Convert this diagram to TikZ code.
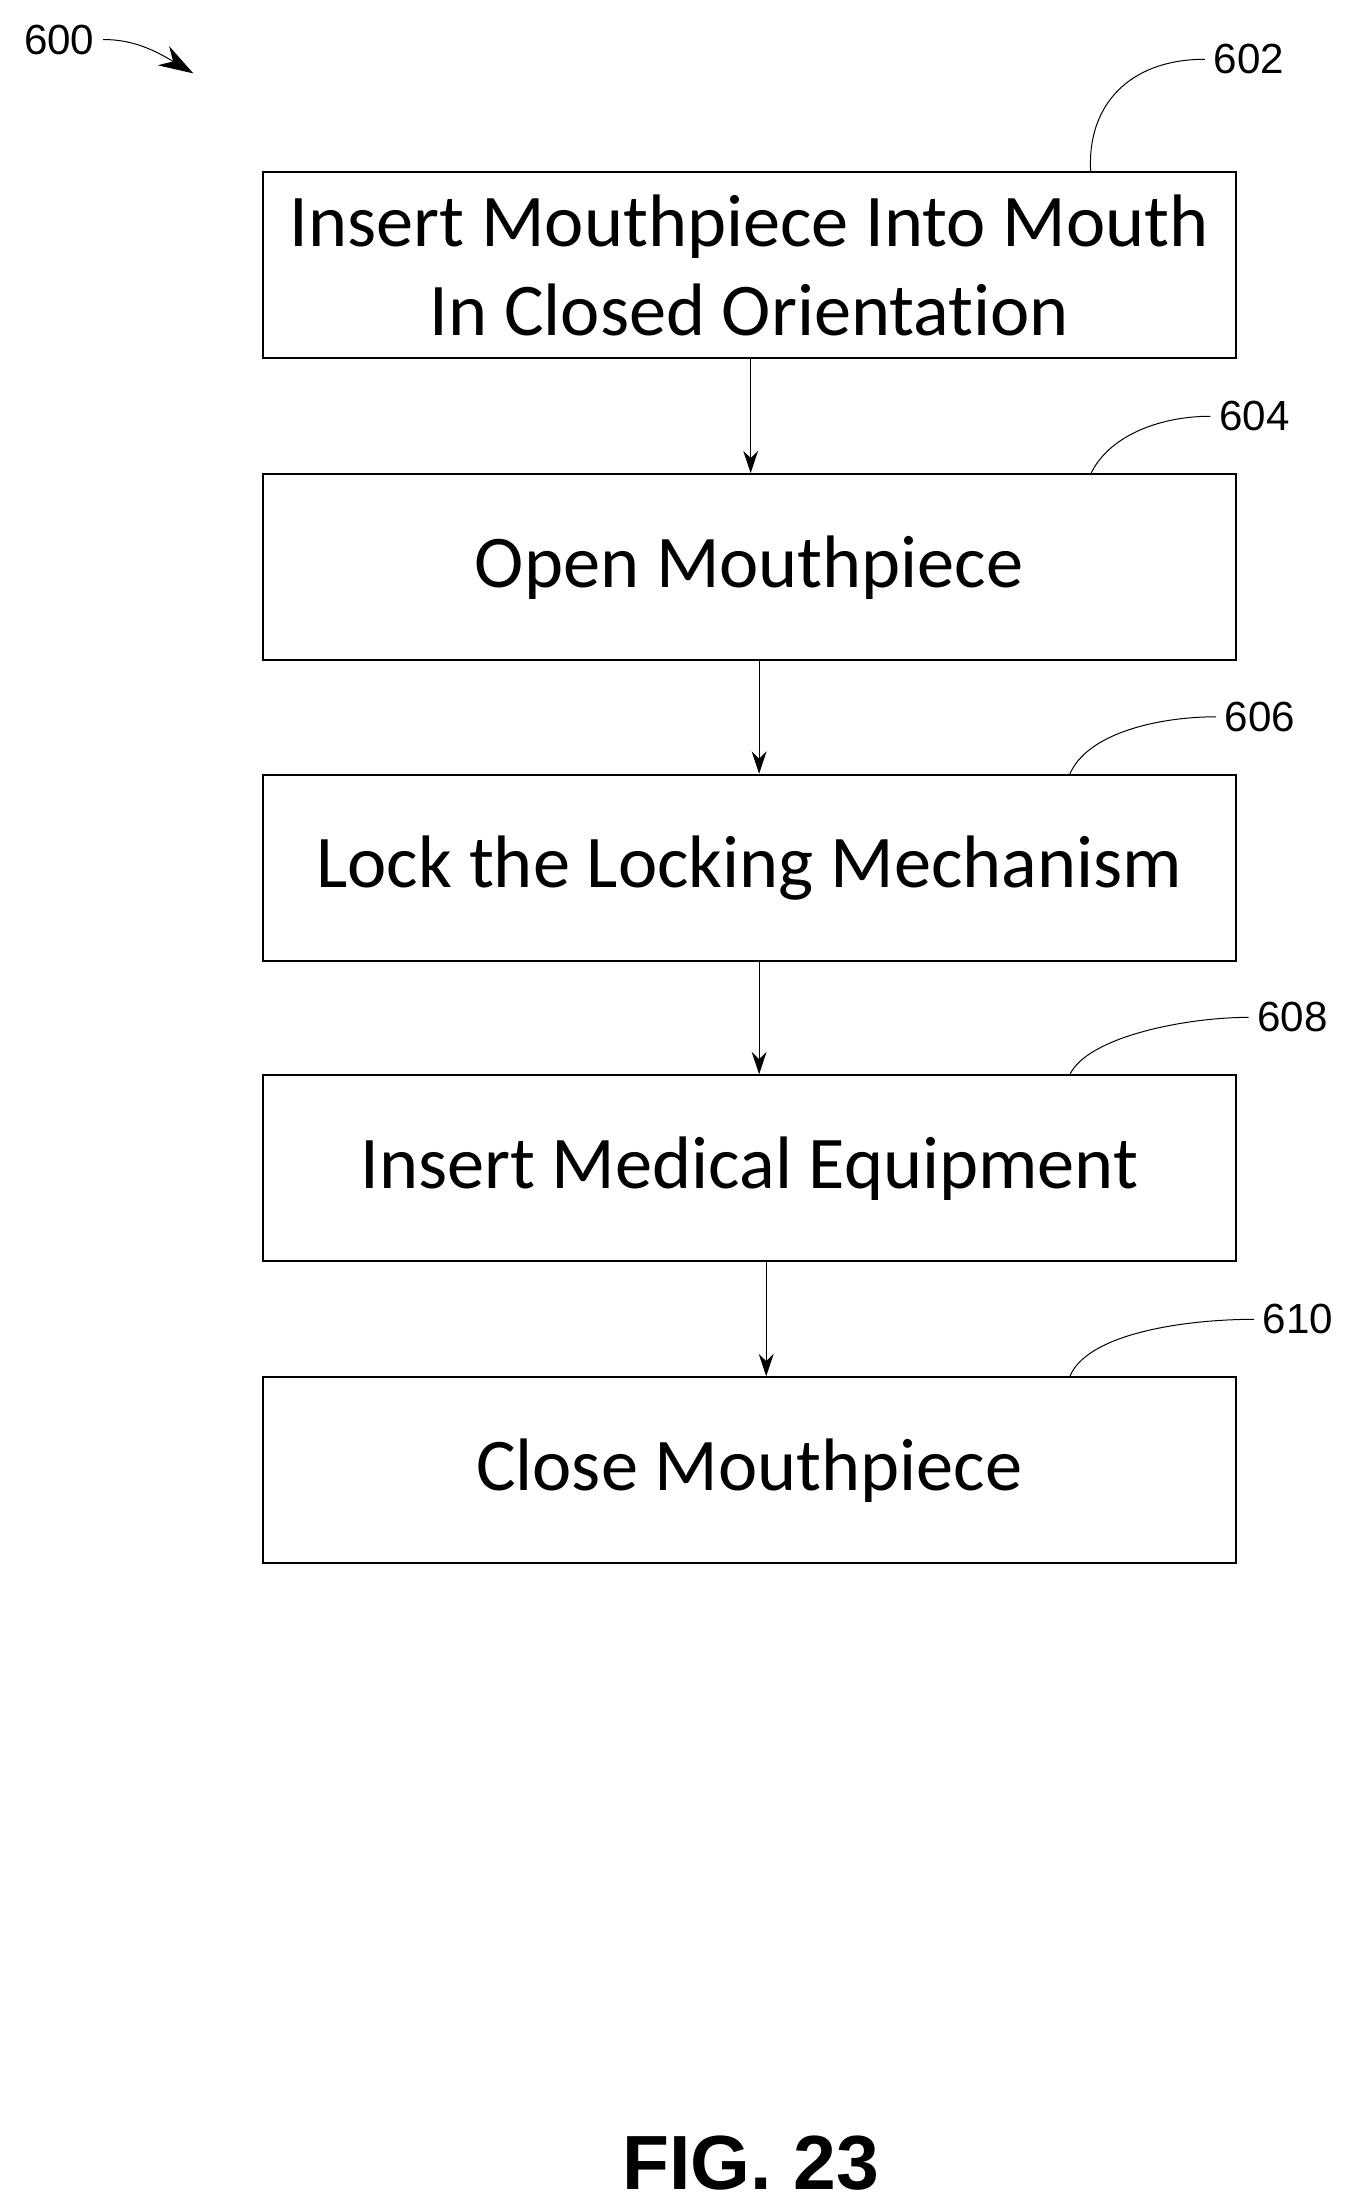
\documentclass[tikz,border=0pt]{standalone}
\usepackage{fontspec}
\setmainfont[Ligatures=NoCommon]{Carlito}
\newfontfamily\numfont{Liberation Sans}
\usetikzlibrary{arrows.meta}
\tikzset{
  flowbox/.style={draw, thick, minimum width=13.8cm, minimum height=2.64cm, align=center, font=\fontsize{30}{36}\selectfont},
  flow/.style={-{Stealth[length=9pt,width=6pt]}, thin},
  refnum/.style={font=\numfont\fontsize{17}{20}\selectfont},
  leader/.style={thin}
}
\begin{document}
\begin{tikzpicture}[x=0.02cm,y=-0.02cm]
    \useasboundingbox (0,0) rectangle (960,1562);
    \node[flowbox] (s602) at (531,188) {Insert Mouthpiece Into Mouth\\In Closed Orientation};
    \node[flowbox] (s604) at (531,402) {Open Mouthpiece};
    \node[flowbox] (s606) at (531,615) {Lock the Locking Mechanism};
    \node[flowbox] (s608) at (531,828) {Insert Medical Equipment};
    \node[flowbox] (s610) at (531,1042) {Close Mouthpiece};

    \draw[flow] (s602.south -| 532,0) -- (s604.north -| 532,0);
    \draw[flow] (s604.south -| 538,0) -- (s606.north -| 538,0);
    \draw[flow] (s606.south -| 538,0) -- (s608.north -| 538,0);
    \draw[flow] (s608.south -| 543,0) -- (s610.north -| 543,0);

    % reference numerals
    \node[refnum] (n600) at (42,28) {600};
    \node[refnum] (n602) at (885,42) {602};
    \node[refnum] (n604) at (889,295) {604};
    \node[refnum] (n606) at (893,508) {606};
    \node[refnum] (n608) at (916,721) {608};
    \node[refnum] (n610) at (920,935) {610};
    \coordinate (e600) at (137,52);
    \draw[-{Stealth[length=14pt,width=9pt]}] (n600.east) .. controls (95,28) and (110,36) .. (e600);
    \draw[leader] (773,122) .. controls (770,75) and (800,42) .. (n602.west);
    \draw[leader] (773,336) .. controls (785,310) and (820,295) .. (n604.west);
    \draw[leader] (758,549) .. controls (770,520) and (820,508) .. (n606.west);
    \draw[leader] (758,762) .. controls (770,735) and (840,721) .. (n608.west);
    \draw[leader] (758,976) .. controls (770,945) and (840,935) .. (n610.west);

    \node[font=\numfont\bfseries\fontsize{31}{36}\selectfont] (fig) at (532,1533) {FIG. 23};
\end{tikzpicture}
\end{document}
